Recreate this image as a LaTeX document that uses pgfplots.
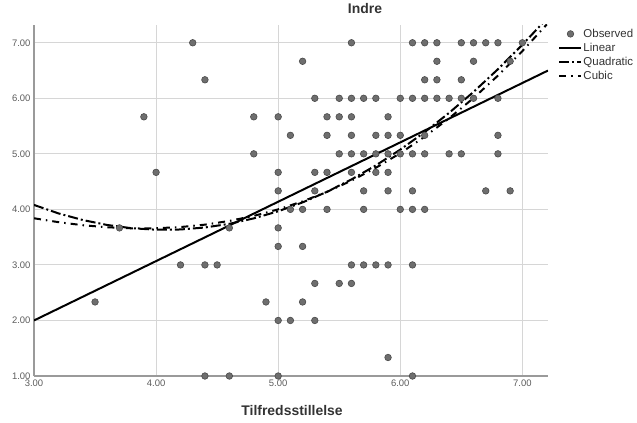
\documentclass[border=0pt]{standalone}
\usepackage{fontspec}
\setmainfont{Liberation Sans}
\usepackage{pgfplots}
\pgfplotsset{compat=1.18}
\definecolor{gridc}{HTML}{D6D6D6}
\definecolor{axc}{HTML}{9A9A9A}
\definecolor{tickc}{HTML}{5C5C5C}
\definecolor{markfill}{HTML}{6E6E6E}
\definecolor{markdraw}{HTML}{4A4A4A}
\definecolor{txt}{HTML}{333333}
\pgfplotsset{
  lineleg/.style={legend image code/.code={\draw[##1] (0bp,0bp) -- (22bp,0bp);}},
  markleg/.style={legend image code/.code={\draw[##1, mark repeat=2, mark phase=2] plot coordinates {(0bp,0bp) (11bp,0bp) (22bp,0bp)};}},
}
\begin{document}
\begin{tikzpicture}
\begin{axis}[
  scale only axis, width=514bp, height=351bp,
  xmin=3, xmax=7.21, ymin=1, ymax=7.32,
  axis x line*=bottom, axis y line*=left,
  axis line style={axc, line width=1.2bp, -},
  grid=major, grid style={gridc, line width=0.9bp},
  xtick={3,4,5,6,7}, ytick={1,2,3,4,5,6,7},
  major tick length=0pt,
  tick label style={font=\fontsize{9.5}{11}\selectfont, text=tickc},
  /pgf/number format/fixed, /pgf/number format/fixed zerofill,
  /pgf/number format/precision=2, /pgf/number format/assume math mode=true,
  title={Indre},
  title style={at={(axis description cs:0.644,1.029)}, anchor=center,
    font=\fontsize{14}{16}\selectfont\bfseries, text=txt},
  xlabel={Tilfredsstillelse},
  xlabel style={at={(axis description cs:0.502,-0.098)}, anchor=center,
    font=\fontsize{14}{16}\selectfont\bfseries, text=txt},
  legend style={at={(axis description cs:1.02,0.992)}, anchor=north west,
    draw=none, fill=none, font=\fontsize{11.5}{13.8}\selectfont, text=txt,
    row sep=2.2bp, inner sep=0pt, nodes={inner sep=1bp}},
  legend cell align=left,
]
\addplot[only marks, mark=*, mark size=3.3bp,
  mark options={fill=markfill, draw=markdraw, line width=0.6bp}, markleg]
table {
x y
4.3 7
5.6 7
6.1 7
6.2 7
6.3 7
6.5 7
6.6 7
6.7 7
6.8 7
7.0 7
5.2 6.6667
6.3 6.6667
6.6 6.6667
6.9 6.6667
4.4 6.3333
6.2 6.3333
6.3 6.3333
6.5 6.3333
5.3 6
5.5 6
5.6 6
5.7 6
5.8 6
6.0 6
6.1 6
6.2 6
6.3 6
6.4 6
6.5 6
6.6 6
6.8 6
3.9 5.6667
4.8 5.6667
5.0 5.6667
5.4 5.6667
5.5 5.6667
5.6 5.6667
5.9 5.6667
5.1 5.3333
5.4 5.3333
5.6 5.3333
5.8 5.3333
5.9 5.3333
6.0 5.3333
6.2 5.3333
6.8 5.3333
4.8 5
5.5 5
5.6 5
5.7 5
5.8 5
5.9 5
6.0 5
6.1 5
6.2 5
6.4 5
6.5 5
6.8 5
4.0 4.6667
5.0 4.6667
5.3 4.6667
5.4 4.6667
5.6 4.6667
5.8 4.6667
5.9 4.6667
5.0 4.3333
5.3 4.3333
5.7 4.3333
5.9 4.3333
6.1 4.3333
6.7 4.3333
6.9 4.3333
5.1 4
5.2 4
5.4 4
5.7 4
6.0 4
6.1 4
6.2 4
3.7 3.6667
4.6 3.6667
5.0 3.6667
5.0 3.3333
5.2 3.3333
4.2 3
4.4 3
4.5 3
5.6 3
5.7 3
5.8 3
5.9 3
6.1 3
5.3 2.6667
5.5 2.6667
5.6 2.6667
3.5 2.3333
4.9 2.3333
5.2 2.3333
5.0 2
5.1 2
5.3 2
5.9 1.3333
4.4 1
4.6 1
5.0 1
6.1 1
};
\addlegendentry{Observed}
\addplot[black, line width=2bp, lineleg]
coordinates {(3,2.0) (7.21,6.50)};
\addlegendentry{Linear}
\addplot[black, line width=2bp, dash pattern=on 10bp off 3bp on 2bp off 3bp, lineleg]
coordinates {(3.0,4.080) (3.2,3.928) (3.4,3.808) (3.6,3.719) (3.8,3.661) (4.0,3.634)
 (4.2,3.638) (4.4,3.674) (4.6,3.740) (4.8,3.838) (5.0,3.966) (5.2,4.126) (5.4,4.317)
 (5.6,4.539) (5.8,4.792) (6.0,5.076) (6.2,5.391) (6.4,5.738) (6.6,6.115) (6.8,6.524)
 (7.0,6.964) (7.2,7.435)};
\addlegendentry{Quadratic}
\addplot[black, line width=2bp, dash pattern=on 7bp off 5bp on 1.5bp off 5bp, lineleg]
coordinates {(3.0,3.840) (3.2,3.770) (3.4,3.715) (3.6,3.678) (3.8,3.659) (4.0,3.660)
 (4.2,3.682) (4.4,3.725) (4.6,3.792) (4.8,3.883) (5.0,4.000) (5.2,4.144) (5.4,4.316)
 (5.6,4.517) (5.8,4.749) (6.0,5.012) (6.2,5.309) (6.4,5.640) (6.6,6.005) (6.8,6.409)
 (7.0,6.850) (7.2,7.330)};
\addlegendentry{Cubic}
\end{axis}
\pgfresetboundingbox
\path[use as bounding box] (-34bp,-47bp) rectangle (603bp,376bp);
\end{tikzpicture}
\end{document}
